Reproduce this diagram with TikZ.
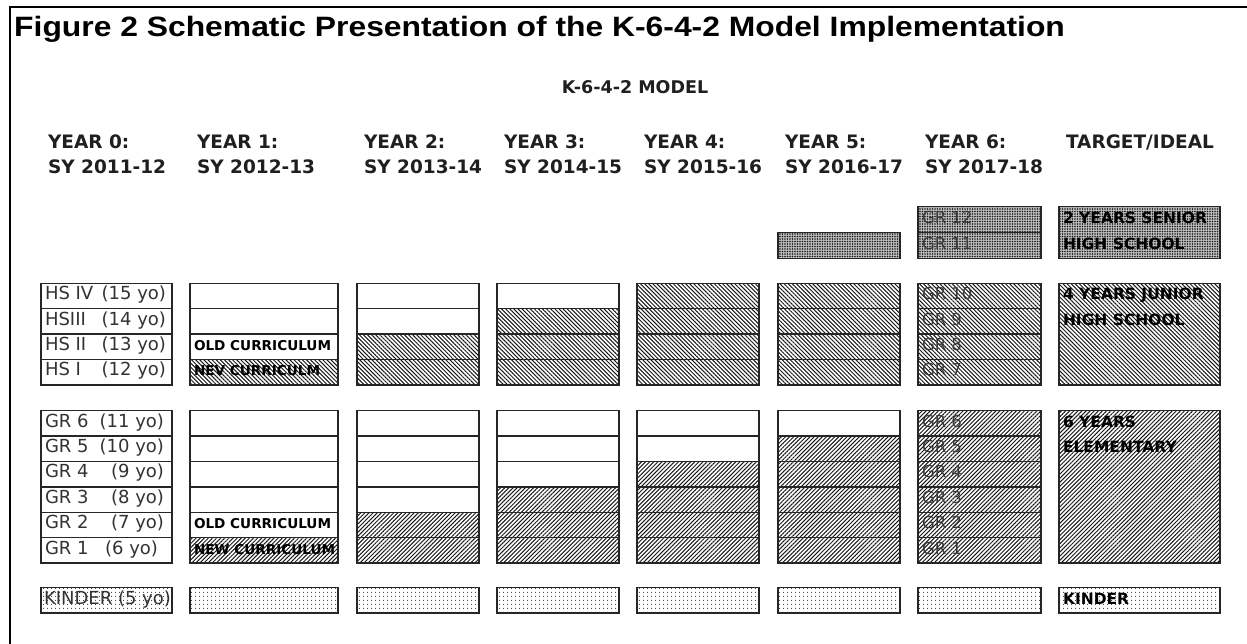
\documentclass[tikz,border=0pt]{standalone}
\usepackage{fontspec}
\setmainfont{DejaVu Sans}
\newfontfamily\arialfont{Liberation Sans}
\usetikzlibrary{patterns,patterns.meta}
\tikzset{
  cellbox/.style={draw=black!85, line width=1.3pt, minimum width=#1, minimum height=25.4pt,
    inner sep=0pt, outer sep=0pt, anchor=north west},
  hsfill/.style={pattern={Lines[angle=-45,distance=2.9pt,line width=1pt]}, pattern color=black!90},
  elfill/.style={pattern={Lines[angle=45,distance=2.9pt,line width=1pt]}, pattern color=black!90},
  shfill/.style={preaction={fill=black!25}, pattern={Dots[distance=2.5pt,radius=0.8pt]}, pattern color=black!90},
  kfill/.style={pattern={Dots[distance=4pt,radius=0.65pt]}, pattern color=black!85},
  lab/.style={inner sep=0pt, outer sep=0pt, text height=0.73em, text depth=0pt, anchor=west,
    font=\fontsize{18}{21}\selectfont, text=black!80},
  labr/.style={lab, anchor=east},
  hdr/.style={inner sep=0pt, outer sep=0pt, text height=0.73em, text depth=0pt, anchor=west,
    font=\bfseries\fontsize{18.5}{21}\selectfont, text=black!88},
  curr/.style={inner sep=0pt, outer sep=0pt, text height=0.73em, text depth=0pt, anchor=west,
    font=\bfseries\fontsize{13.6}{15}\selectfont, text=black},
  grlab/.style={lab, font=\fontsize{16.5}{19}\selectfont, text=black!78},
  tlab/.style={inner sep=0pt, outer sep=0pt, text height=0.73em, text depth=0pt, anchor=west,
    font=\bfseries\fontsize{15.5}{18}\selectfont, text=black},
}
\begin{document}
\begin{tikzpicture}[x=1pt,y=-1pt]
\useasboundingbox (0,0) rectangle (1247,644);
\fill[white] (0,0) rectangle (1247,644);
\draw[line width=2pt, black] (9.5,644) -- (9.5,7.5) -- (1247,7.5);

\node[anchor=base west, inner sep=0pt, font=\arialfont\bfseries\fontsize{28}{32}\selectfont] (title) at (14,37)
  {\scalebox{1.137}[1]{Figure 2 Schematic Presentation of the K-6-4-2 Model Implementation}};
\node[hdr, anchor=center, font=\bfseries\fontsize{17.5}{20}\selectfont] (model) at (635,90) {K-6-4-2 MODEL};

% headers
\foreach \i/\x/\a/\b in {0/41/YEAR 0:/SY 2011-12, 1/190/YEAR 1:/SY 2012-13, 2/357/YEAR 2:/SY 2013-14,
  3/497/YEAR 3:/SY 2014-15, 4/637/YEAR 4:/SY 2015-16, 5/778/YEAR 5:/SY 2016-17, 6/918/YEAR 6:/SY 2017-18}{
  \node[hdr] (ha-\i) at (\x+7,145) {\a};
  \node[hdr] (hb-\i) at (\x+7,170) {\b};
}
\node[hdr] (ha-7) at (1066,145) {TARGET/IDEAL};

% high school and elementary grids
\foreach \c/\x/\w in {0/41/131,1/190/148,2/357/122,3/497/122,4/637/122,5/778/122,6/918/123}{
  \foreach \r in {0,...,3}{
    \pgfmathtruncatemacro\h{(\r>=4-\c) ? 1 : 0}
    \ifnum\h=1
      \node[cellbox=\w, hsfill] (hs-\c-\r) at (\x,{283.3+25.4*\r}) {};
    \else
      \node[cellbox=\w] (hs-\c-\r) at (\x,{283.3+25.4*\r}) {};
    \fi
  }
  \foreach \r in {0,...,5}{
    \pgfmathtruncatemacro\h{(\r>=6-\c) ? 1 : 0}
    \ifnum\h=1
      \node[cellbox=\w, elfill] (gr-\c-\r) at (\x,{410.7+25.4*\r}) {};
    \else
      \node[cellbox=\w] (gr-\c-\r) at (\x,{410.7+25.4*\r}) {};
    \fi
  }
}
% kinder row
\foreach \c/\x/\w in {0/41/131,1/190/148,2/357/122,3/497/122,4/637/122,5/778/122,6/918/123,7/1059/161}{
  \node[cellbox=\w, kfill] (k-\c) at (\x,587.7) {};
}
% senior high
\node[cellbox=122, shfill, minimum height=25.8pt] (sh-5) at (778,232.7) {};
\node[cellbox=123, shfill, minimum height=25.8pt] (sh-6-0) at (918,206.7) {};
\node[cellbox=123, shfill, minimum height=25.8pt] (sh-6-1) at (918,232.5) {};
% target boxes
\node[cellbox=161, shfill, minimum height=51.6pt] (t-sh) at (1059,206.7) {};
\node[cellbox=161, hsfill, minimum height=101.6pt] (t-jh) at (1059,283.3) {};
\node[cellbox=161, elfill, minimum height=152.4pt] (t-el) at (1059,410.7) {};

% row labels year 0
\foreach \r/\a/\b in {0/HS IV/(15 yo), 1/HSIII/(14 yo), 2/HS II/(13 yo), 3/HS I/(12 yo)}{
  \node[lab] (hsl-\r) at ([xshift=4pt]hs-0-\r.west) {\a};
  \node[labr] (hsa-\r) at ([xshift=-6pt]hs-0-\r.east) {\b};
}
\foreach \r/\a/\b in {0/GR 6/(11 yo), 1/GR 5/(10 yo), 2/GR 4/(9 yo), 3/GR 3/(8 yo), 4/GR 2/(7 yo)}{
  \node[lab] (grl-\r) at ([xshift=4pt]gr-0-\r.west) {\a};
  \node[labr] (gra-\r) at ([xshift=-8pt]gr-0-\r.east) {\b};
}
\node[lab] (grl-5) at ([xshift=4pt]gr-0-5.west) {GR 1};
\node[labr] (gra-5) at ([xshift=-14pt]gr-0-5.east) {(6 yo)};
\node[lab] (kl-0) at ([xshift=3pt]k-0.west) {KINDER (5 yo)};

% curriculum labels
\node[curr] (c-old-hs) at ([xshift=4pt]hs-1-2.west) {OLD CURRICULUM};
\node[curr] (c-new-hs) at ([xshift=4pt]hs-1-3.west) {NEV CURRICULM};
\node[curr] (c-old-gr) at ([xshift=4pt]gr-1-4.west) {OLD CURRICULUM};
\node[curr] (c-new-gr) at ([xshift=4pt]gr-1-5.west) {NEW CURRICULUM};

% year 6 grade labels
\node[grlab] (g12) at ([xshift=4pt]sh-6-0.west) {GR 12};
\node[grlab] (g11) at ([xshift=4pt]sh-6-1.west) {GR 11};
\foreach \r/\g in {0/10,1/9,2/8,3/7}{
  \node[grlab] (g\g) at ([xshift=4pt]hs-6-\r.west) {GR \g};
}
\foreach \r/\g in {0/6,1/5,2/4,3/3,4/2,5/1}{
  \node[grlab] (gg\g) at ([xshift=4pt]gr-6-\r.west) {GR \g};
}

% target labels
\node[tlab] (tsh-a) at ([xshift=4pt,yshift=-12.9pt]t-sh.north west) {2 YEARS SENIOR};
\node[tlab] (tsh-b) at ([xshift=4pt,yshift=-38.7pt]t-sh.north west) {HIGH SCHOOL};
\node[tlab] (tjh-a) at ([xshift=4pt,yshift=-12.7pt]t-jh.north west) {4 YEARS JUNIOR};
\node[tlab] (tjh-b) at ([xshift=4pt,yshift=-38.1pt]t-jh.north west) {HIGH SCHOOL};
\node[tlab] (tel-a) at ([xshift=4pt,yshift=-12.7pt]t-el.north west) {6 YEARS};
\node[tlab] (tel-b) at ([xshift=4pt,yshift=-38.1pt]t-el.north west) {ELEMENTARY};
\node[tlab] (tk) at ([xshift=4pt]k-7.west) {KINDER};
\end{tikzpicture}
\end{document}
